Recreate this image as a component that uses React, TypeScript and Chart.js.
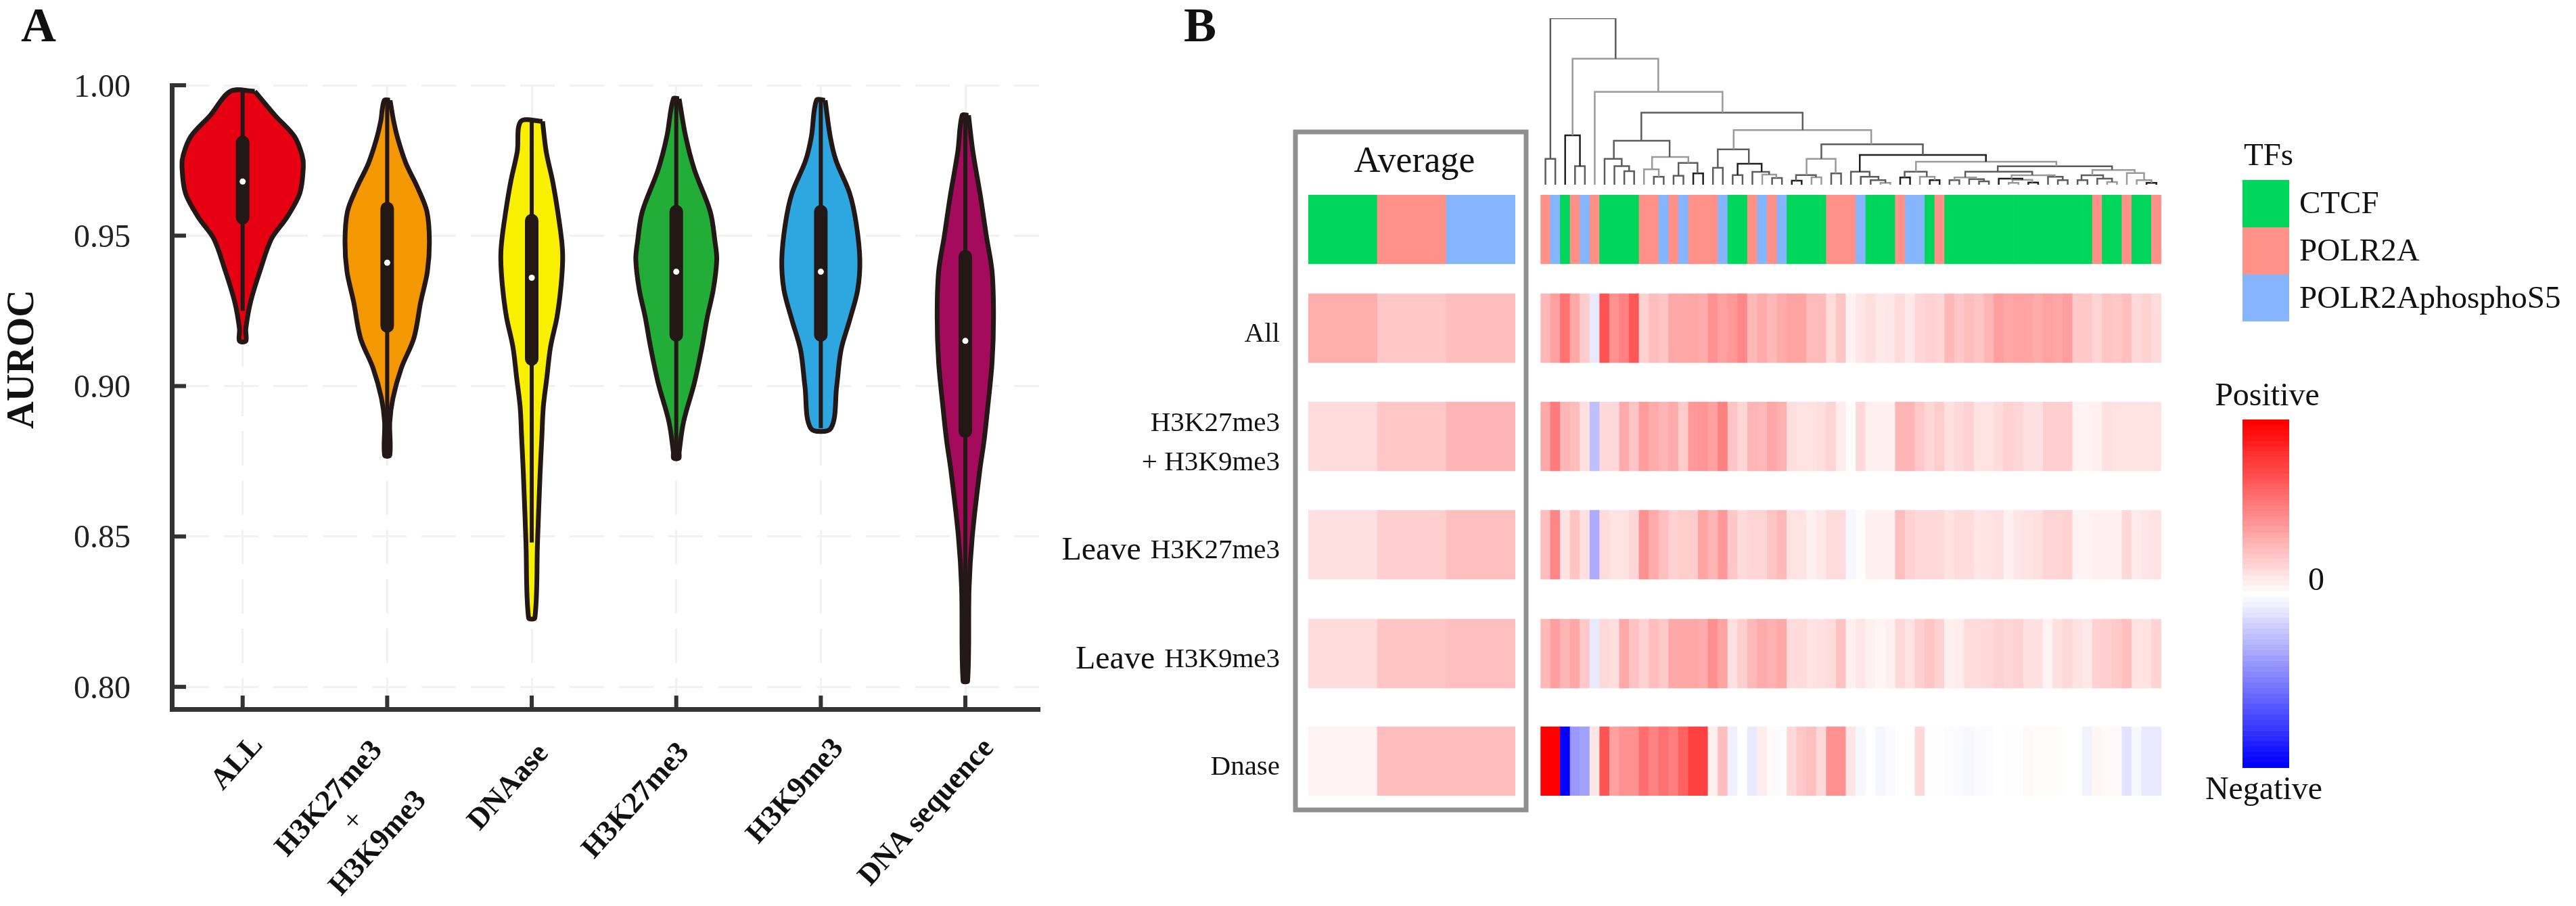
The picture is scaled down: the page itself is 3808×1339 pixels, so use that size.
import React, { useEffect, useRef } from "react";
import { Chart, registerables } from "chart.js";

Chart.register(...registerables);

// ---------- Panel A data ----------
const VIOLIN_LABELS = [["ALL"], ["H3K27me3", "+", "H3K9me3"], ["DNAase"], ["H3K27me3"], ["H3K9me3"], ["DNA sequence"]];
const Y_TICKS = [0.8, 0.85, 0.9, 0.95, 1.0];
const ALL_V = [0.998, 0.99, 0.983, 0.977, 0.973, 0.964, 0.956, 0.949, 0.939, 0.928, 0.919, 0.915];
const ALL_W = [0.084, 0.224, 0.358, 0.41, 0.42, 0.395, 0.305, 0.2, 0.125, 0.055, 0.022, 0.022];
const BOTH_V = [0.995, 0.988, 0.982, 0.974, 0.966, 0.958, 0.948, 0.938, 0.928, 0.916, 0.906, 0.896, 0.888, 0.877];
const BOTH_W = [0.02, 0.045, 0.075, 0.13, 0.21, 0.275, 0.292, 0.278, 0.232, 0.185, 0.098, 0.04, 0.018, 0.018];
const DNAASE_V = [0.988, 0.978, 0.968, 0.958, 0.948, 0.942, 0.933, 0.923, 0.913, 0.903, 0.893, 0.883, 0.871, 0.848, 0.823];
const DNAASE_W = [0.075, 0.1, 0.145, 0.18, 0.208, 0.214, 0.202, 0.175, 0.13, 0.105, 0.08, 0.07, 0.058, 0.04, 0.022];
const K27_V = [0.9955, 0.983, 0.972, 0.958, 0.948, 0.942, 0.932, 0.923, 0.913, 0.901, 0.888, 0.878, 0.876];
const K27_W = [0.02, 0.065, 0.125, 0.235, 0.268, 0.28, 0.256, 0.215, 0.178, 0.125, 0.05, 0.02, 0.018];
const K9_V = [0.995, 0.983, 0.975, 0.964, 0.954, 0.942, 0.932, 0.922, 0.912, 0.9, 0.886];
const K9_W = [0.03, 0.065, 0.105, 0.2, 0.245, 0.27, 0.255, 0.2, 0.14, 0.11, 0.07];
const SEQ_V = [0.99, 0.978, 0.963, 0.95, 0.938, 0.923, 0.908, 0.893, 0.882, 0.872, 0.85, 0.833, 0.802];
const SEQ_W = [0.022, 0.052, 0.105, 0.145, 0.185, 0.195, 0.185, 0.155, 0.13, 0.1, 0.048, 0.026, 0.016];
const VIOLIN_V = [ALL_V, BOTH_V, DNAASE_V, K27_V, K9_V, SEQ_V];
const VIOLIN_W = [ALL_W, BOTH_W, DNAASE_W, K27_W, K9_W, SEQ_W];
const WHISKER_LOW = [0.925, 0.877, 0.848, 0.876, 0.886, 0.802];
const WHISKER_HIGH = [0.998, 0.995, 0.988, 0.9955, 0.995, 0.99];
const BOX_LOW = [0.956, 0.92, 0.909, 0.917, 0.917, 0.885];
const BOX_HIGH = [0.981, 0.959, 0.955, 0.958, 0.958, 0.943];
const MEDIANS = [0.968, 0.941, 0.936, 0.938, 0.938, 0.915];
const VIOLIN_COLORS = ["#E60012", "#F39800", "#F9F000", "#22AC38", "#2EA7E0", "#A40B5D"];

// ---------- Panel B data ----------
const TF_NAMES = ["CTCF", "POLR2A", "POLR2AphosphoS5"];
const TF_COLORS = ["#00D65B", "#FF9189", "#85B5FF"];
const ROW_NAMES = ["All", "H3K27me3\n+ H3K9me3", "Leave H3K27me3", "Leave H3K9me3", "Dnase"];
const AVG_TYPES = [0, 1, 2];
const AVG_ALL = [0.32, 0.22, 0.26];
const AVG_BOTH = [0.14, 0.22, 0.29];
const AVG_LEAVE27 = [0.12, 0.19, 0.25];
const AVG_LEAVE9 = [0.14, 0.23, 0.25];
const AVG_DNASE = [0.05, 0.26, 0.26];
const COL_TYPES = [1, 2, 0, 1, 2, 1, 0, 0, 0, 0, 1, 1, 2, 1, 2, 1, 1, 1, 2, 0, 0, 1, 2, 1, 2, 0, 0, 0, 0, 1, 1, 1, 2, 0, 0, 0, 1, 2, 2, 0, 1, 0, 0, 0, 0, 0, 0, 0, 0, 0, 0, 0, 0, 0, 0, 0, 1, 0, 0, 1, 0, 0, 1];
const HEAT_ALL = [0.28, 0.37, 0.55, 0.34, 0.2, -0.09, 0.67, 0.43, 0.5, 0.66, 0.18, 0.26, 0.23, 0.34, 0.34, 0.35, 0.33, 0.43, 0.37, 0.4, 0.47, 0.28, 0.33, 0.28, 0.33, 0.36, 0.36, 0.27, 0.27, 0.14, 0.23, 0.05, 0.1, 0.13, 0.09, 0.1, 0.14, 0.09, 0.16, 0.18, 0.16, 0.28, 0.22, 0.26, 0.23, 0.29, 0.38, 0.35, 0.36, 0.36, 0.33, 0.37, 0.35, 0.38, 0.21, 0.22, 0.17, 0.23, 0.22, 0.25, 0.15, 0.18, 0.14];
const HEAT_BOTH = [0.34, 0.52, 0.29, 0.26, 0.12, -0.25, 0.15, 0.15, 0.33, 0.23, 0.39, 0.33, 0.29, 0.33, 0.2, 0.4, 0.41, 0.37, 0.5, 0.23, 0.16, 0.29, 0.28, 0.35, 0.31, 0.13, 0.11, 0.11, 0.13, 0.17, 0.07, 0.01, 0.15, 0.06, 0.06, 0.06, 0.29, 0.29, 0.21, 0.16, 0.2, 0.12, 0.15, 0.18, 0.11, 0.11, 0.14, 0.18, 0.16, 0.12, 0.12, 0.19, 0.19, 0.19, 0.05, 0.05, 0.06, 0.12, 0.11, 0.11, 0.11, 0.11, 0.11];
const HEAT_LEAVE27 = [0.26, 0.47, 0.11, 0.23, 0.12, -0.33, 0.14, 0.11, 0.11, 0.16, 0.43, 0.33, 0.25, 0.18, 0.2, 0.2, 0.36, 0.29, 0.4, 0.22, 0.14, 0.17, 0.17, 0.23, 0.28, 0.11, 0.11, 0.06, 0.09, 0.14, 0.14, -0.03, 0.01, 0.06, 0.06, 0.06, 0.25, 0.18, 0.15, 0.15, 0.15, 0.11, 0.14, 0.14, 0.1, 0.11, 0.12, 0.06, 0.1, 0.11, 0.12, 0.17, 0.17, 0.18, 0.05, 0.05, 0.06, 0.06, 0.06, 0.15, 0.08, 0.1, 0.11];
const HEAT_LEAVE9 = [0.28, 0.38, 0.29, 0.34, 0.21, -0.09, 0.15, 0.13, 0.34, 0.24, 0.18, 0.26, 0.21, 0.34, 0.35, 0.35, 0.33, 0.44, 0.36, 0.12, 0.19, 0.28, 0.33, 0.31, 0.34, 0.14, 0.14, 0.11, 0.12, 0.14, 0.24, 0.06, 0.1, 0.06, 0.04, 0.06, 0.15, 0.11, 0.19, 0.23, 0.18, 0.06, 0.07, 0.14, 0.14, 0.15, 0.18, 0.16, 0.18, 0.12, 0.12, 0.05, 0.12, 0.15, 0.11, 0.09, 0.18, 0.19, 0.21, 0.25, 0.11, 0.11, 0.17];
const HEAT_DNASE = [1, 1, -1, -0.4, -0.37, 0.1, 0.67, 0.37, 0.43, 0.43, 0.57, 0.49, 0.56, 0.51, 0.62, 0.75, 0.75, 0.06, 0.25, -0.06, 0, -0.09, 0.07, 0.02, -0.01, 0.15, 0.22, 0.25, 0.15, 0.43, 0.43, 0.1, -0.03, 0, -0.04, -0.02, 0, 0, 0.15, 0.005, 0.005, -0.01, -0.02, -0.03, -0.02, -0.01, 0, 0.005, 0.005, 0.02, 0.01, 0.01, 0.01, 0, 0, -0.05, 0.04, 0.02, 0.02, -0.11, -0.03, -0.09, -0.09];
const COLORBAR_LEVELS = [1, 0.97, 0.94, 0.91, 0.88, 0.84, 0.81, 0.78, 0.75, 0.72, 0.69, 0.66, 0.62, 0.59, 0.56, 0.53, 0.5, 0.47, 0.44, 0.41, 0.38, 0.34, 0.31, 0.28, 0.25, 0.22, 0.19, 0.16, 0.12, 0.09, 0.06, 0.03, 0, -0.03, -0.06, -0.09, -0.12, -0.16, -0.19, -0.22, -0.25, -0.28, -0.31, -0.34, -0.38, -0.41, -0.44, -0.47, -0.5, -0.53, -0.56, -0.59, -0.62, -0.66, -0.69, -0.72, -0.75, -0.78, -0.81, -0.84, -0.88, -0.91, -0.94, -0.97, -1];

// Dendrogram merges: left column, right column, merge height, left child height, right child height, shade
const DENDRO_LINKS = [
  [0.5, 7.12, 246.7, 38.3, 186.7, 1], [0, 1, 38.3, 0, 0, 1], [2.75, 11.45, 186.7, 73.3, 137.7, 2], [2, 3.5, 73.3, 0, 27.7, 0], [3, 4, 27.7, 0, 0, 1],
  [5, 17.97, 137.7, 0, 106.7, 2], [9.73, 26.1, 106.7, 65.3, 81, 1], [6.94, 12.6, 65.3, 38.3, 41, 1], [6, 7.74, 38.3, 0, 27.7, 1], [7, 8.49, 27.7, 0, 20, 1],
  [8, 9, 20, 0, 0, 1], [10.82, 14.5, 41, 22.7, 32.3, 2], [10, 11.5, 22.7, 0, 11.7, 2], [11, 12, 11.7, 0, 0, 1], [13.5, 15.43, 32.3, 13.3, 16.7, 1],
  [13, 14, 13.3, 0, 0, 1], [15, 16, 16.7, 0, 0, 0], [19.1, 33.06, 81, 52.3, 60, 2], [17.49, 20.64, 52.3, 25, 31, 1], [17, 18, 25, 0, 0, 1],
  [19.5, 21.94, 31, 14.3, 19, 0], [19, 20, 14.3, 0, 0, 1], [21, 22.7, 19, 0, 15, 1], [22, 23.42, 15, 0, 10, 2], [23, 24, 10, 0, 0, 1],
  [28, 38.3, 60, 38.3, 44, 1], [26.5, 29.45, 38.3, 14.3, 16.7, 2], [25.43, 27.45, 14.3, 6, 11, 1], [25, 26, 6, 0, 0, 0], [27, 28, 11, 0, 0, 2],
  [29, 30, 16.7, 0, 0, 1], [31.9, 44.7, 44, 19.3, 34, 0], [31, 32.9, 19.3, 0, 11.7, 1], [32, 33.8, 11.7, 0, 6.7, 1], [33, 34.5, 6.7, 0, 2.7, 1],
  [34, 35, 2.7, 0, 0, 2], [37.6, 51.85, 34, 19.3, 27.3, 2], [36.45, 38.7, 19.3, 10.7, 11.7, 1], [36, 37, 10.7, 0, 0, 0], [38, 39.5, 11.7, 0, 6.7, 2],
  [39, 40, 6.7, 0, 0, 0], [45.9, 57.5, 27.3, 19.3, 21.7, 1], [42.6, 49.4, 19.3, 10.7, 14, 1], [41.5, 43.7, 10.7, 6.7, 8.3, 2], [41, 42, 6.7, 0, 0, 1],
  [43, 44.5, 8.3, 0, 5, 1], [44, 45, 5, 0, 0, 1], [47.3, 51.7, 14, 9, 11.7, 2], [46, 48.4, 9, 0, 7.3, 0], [47.4, 49.4, 7.3, 2.7, 3.3, 2],
  [47, 48, 2.7, 0, 0, 2], [49, 50, 3.3, 0, 0, 0], [51, 52.5, 11.7, 0, 6.7, 1], [52, 53, 6.7, 0, 0, 1], [55.5, 59.8, 21.7, 14, 17.3, 2],
  [54.4, 56.6, 14, 6.7, 9, 1], [54, 55, 6.7, 0, 0, 1], [56, 57.5, 9, 0, 4, 1], [57, 58, 4, 0, 0, 2], [59, 60.75, 17.3, 0, 6.7, 2],
  [60, 61.5, 6.7, 0, 2.7, 2], [61, 62, 2.7, 0, 0, 0],
];

// ---------- Layout and style ----------
const SERIF = '"Liberation Serif"';
const INK = "#231815";
const AXIS = "#333333";
const GRID = "#f1f1f1";
const SHADES = ["#1f1f1f", "#5c5c5c", "#9a9a9a"];
const ROW_STARTS = [0, 146, 306, 466, 627, 786];
const ROW_SPAN = 102;
const XLABEL_OFFSETS = [[-7.5, 1128], [-49, 1214], [-34, 1164], [-59, 1184], [-37, 1170], [-57, 1201]];

function heatColor(v: number) {
  const c = Math.round(255 * (1 - Math.abs(v)));
  return v >= 0 ? `rgb(255,${c},${c})` : `rgb(${c},${c},255)`;
}

function text(ctx: any, s: string, x: number, y: number, font: string, color = "#111", align = "center", rot = 0) {
  ctx.save();
  ctx.translate(x, y);
  if (rot) ctx.rotate(rot);
  ctx.font = font;
  ctx.fillStyle = color;
  ctx.textAlign = align;
  ctx.textBaseline = "middle";
  ctx.fillText(s, 0, 0);
  ctx.restore();
}

const baseOptions = {
  responsive: false,
  animation: false,
  devicePixelRatio: 1,
  plugins: { legend: { display: false }, tooltip: { enabled: false } },
};

function violinOutline(cat: number) {
  const v = VIOLIN_V[cat];
  const w = VIOLIN_W[cat];
  const right = v.map((y, i) => ({ x: cat + w[i], y }));
  const left = v.map((y, i) => ({ x: cat - w[i], y })).reverse();
  return [...right, ...left, right[0]];
}

function violinChart(canvas: HTMLCanvasElement) {
  const datasets: any[] = [];
  VIOLIN_V.forEach((_, c) => {
    datasets.push({
      data: violinOutline(c), showLine: true, fill: "shape", backgroundColor: VIOLIN_COLORS[c],
      borderColor: INK, borderWidth: 7, borderJoinStyle: "round", tension: 0.33, pointRadius: 0, order: 3,
    });
    datasets.push({
      data: [{ x: c, y: WHISKER_LOW[c] }, { x: c, y: WHISKER_HIGH[c] }], showLine: true, fill: false,
      borderColor: INK, borderWidth: 6, pointRadius: 0, order: 2,
    });
    datasets.push({
      data: [{ x: c, y: BOX_LOW[c] }, { x: c, y: BOX_HIGH[c] }], showLine: true, fill: false,
      borderColor: INK, borderWidth: 20, borderCapStyle: "round", pointRadius: 0, order: 1,
    });
    datasets.push({
      data: [{ x: c, y: MEDIANS[c] }], showLine: false, pointRadius: 4.5, pointBorderWidth: 0,
      pointBackgroundColor: "#ffffff", order: 0,
    });
  });
  const tickMarks = {
    id: "tickMarks",
    afterDraw(chart: any) {
      const { ctx, scales, chartArea } = chart;
      ctx.save();
      ctx.fillStyle = AXIS;
      scales.y.ticks.forEach((t: any) => {
        ctx.fillRect(chartArea.left, scales.y.getPixelForValue(t.value) - 3, 21, 6);
      });
      scales.x.ticks.forEach((t: any) => {
        ctx.fillRect(scales.x.getPixelForValue(t.value) - 3, chartArea.bottom - 20, 6, 20);
      });
      ctx.restore();
      VIOLIN_LABELS.forEach((lines, c) => {
        const [dx, cy] = XLABEL_OFFSETS[c];
        const cx = scales.x.getPixelForValue(c) + dx;
        const angle = (-48 * Math.PI) / 180;
        lines.forEach((line, i) => {
          const k = (i - (lines.length - 1) / 2) * 49;
          const font = line === "+" ? `44px ${SERIF}` : `bold 44px ${SERIF}`;
          text(ctx, line, cx + k * 0.74, cy + k * 0.67, font, "#111", "center", angle);
        });
      });
      text(ctx, "AUROC", 35, 531, `bold 56px ${SERIF}`, "#111", "center", -Math.PI / 2);
      text(ctx, "A", 57, 42, `bold 72px ${SERIF}`);
    },
  };
  return new Chart(canvas, {
    type: "scatter",
    data: { datasets },
    plugins: [tickMarks],
    options: {
      ...baseOptions,
      layout: { padding: { top: 126, right: 64, left: 0, bottom: 0 } },
      scales: {
        x: {
          type: "linear", min: -0.49, max: 5.51,
          afterBuildTicks: (s: any) => { s.ticks = [0, 1, 2, 3, 4, 5].map((value) => ({ value })); },
          afterFit: (s: any) => { s.height = 291; },
          ticks: { display: false },
          grid: { color: GRID, lineWidth: 3, drawTicks: false },
          border: { display: true, color: AXIS, width: 7, dash: [51, 22] },
        },
        y: {
          type: "linear", min: 0.7926, max: 1.0,
          afterBuildTicks: (s: any) => { s.ticks = Y_TICKS.map((value) => ({ value })); },
          afterFit: (s: any) => { s.width = 254; },
          ticks: {
            padding: 61, color: "#222", font: { family: SERIF, size: 48 }, labelOffset: 4,
            callback: (v: any) => Number(v).toFixed(2),
          },
          grid: { color: GRID, lineWidth: 3, drawTicks: false },
          border: { display: true, color: AXIS, width: 7, dash: [51, 22] },
        },
      },
    } as any,
  } as any);
}

function heatDatasets(columns: number, types: number[], rows: number[][]) {
  const span = (row: number) => Array.from({ length: columns }, () => [ROW_STARTS[row], ROW_STARTS[row] + ROW_SPAN]);
  const sets: any[] = [{ data: span(0), backgroundColor: types.map((t) => TF_COLORS[t]), grouped: false }];
  rows.forEach((vals, r) => {
    sets.push({ data: span(r + 1), backgroundColor: vals.map(heatColor), grouped: false });
  });
  return sets;
}

const heatScales = {
  x: { display: false, type: "category", offset: true, grid: { display: false } },
  y: { display: false, type: "linear", min: 0, max: 888, reverse: true },
};

function averageChart(canvas: HTMLCanvasElement) {
  const frame = {
    id: "frame",
    afterDraw(chart: any) {
      const { ctx, chartArea: a, scales } = chart;
      ctx.save();
      ctx.strokeStyle = "#8f8f8f";
      ctx.lineWidth = 7;
      ctx.strokeRect(a.left - 19, a.top - 93, a.right - a.left + 35, a.bottom - a.top + 114);
      ctx.restore();
      text(ctx, "Average", (a.left + a.right) / 2 + 4, a.top - 48, `54px ${SERIF}`);
      text(ctx, "B", a.left - 160, 42, `bold 72px ${SERIF}`);
      const right = a.left - 42;
      ROW_NAMES.forEach((name, r) => {
        const cy = scales.y.getPixelForValue(ROW_STARTS[r + 1] + ROW_SPAN / 2) + 9;
        if (name.includes("\n")) {
          const [one, two] = name.split("\n");
          text(ctx, one, right, cy - 28, `41px ${SERIF}`, "#111", "right");
          text(ctx, two, right, cy + 30, `41px ${SERIF}`, "#111", "right");
        } else if (name.startsWith("Leave ")) {
          const rest = name.slice(6);
          ctx.font = `41px ${SERIF}`;
          const w = ctx.measureText(rest).width;
          text(ctx, rest, right, cy, `41px ${SERIF}`, "#111", "right");
          text(ctx, "Leave", right - w - 14, cy, `48px ${SERIF}`, "#111", "right");
        } else {
          text(ctx, name, right, cy, `41px ${SERIF}`, "#111", "right");
        }
      });
    },
  };
  return new Chart(canvas, {
    type: "bar",
    data: {
      labels: TF_NAMES,
      datasets: heatDatasets(3, AVG_TYPES, [AVG_ALL, AVG_BOTH, AVG_LEAVE27, AVG_LEAVE9, AVG_DNASE]),
    },
    plugins: [frame],
    options: {
      ...baseOptions,
      datasets: { bar: { barPercentage: 1, categoryPercentage: 1 } },
      layout: { padding: { left: 389, right: 30, top: 288, bottom: 163 } },
      scales: heatScales,
    } as any,
  } as any);
}

function mainHeatChart(canvas: HTMLCanvasElement) {
  return new Chart(canvas, {
    type: "bar",
    data: {
      labels: COL_TYPES.map((_, i) => String(i)),
      datasets: heatDatasets(COL_TYPES.length, COL_TYPES, [HEAT_ALL, HEAT_BOTH, HEAT_LEAVE27, HEAT_LEAVE9, HEAT_DNASE]),
    },
    options: {
      ...baseOptions,
      datasets: { bar: { barPercentage: 1, categoryPercentage: 1 } },
      layout: { padding: { left: 7.3, right: 10, top: 8, bottom: 14 } },
      scales: heatScales,
    } as any,
  } as any);
}

function dendroChart(canvas: HTMLCanvasElement) {
  const datasets = DENDRO_LINKS.map(([xl, xr, h, hl, hr, shade]) => ({
    data: [{ x: xl, y: hl }, { x: xl, y: h }, { x: xr, y: h }, { x: xr, y: hr }],
    showLine: true, fill: false, borderColor: SHADES[shade], borderWidth: 2.5, pointRadius: 0, tension: 0,
    borderJoinStyle: "miter",
  }));
  return new Chart(canvas, {
    type: "scatter",
    data: { datasets },
    options: {
      ...baseOptions,
      layout: { padding: { left: 7.3, right: 10, top: 27, bottom: 12 } },
      scales: {
        x: { display: false, type: "linear", min: -0.5, max: 62.5 },
        y: { display: false, type: "linear", min: 0, max: 246.7 },
      },
    } as any,
  } as any);
}

function tfLegendChart(canvas: HTMLCanvasElement) {
  const names = {
    id: "names",
    afterDraw(chart: any) {
      const { ctx, scales, chartArea: a } = chart;
      text(ctx, "TFs", a.left + 2, a.top - 34, `47px ${SERIF}`, "#111", "left");
      TF_NAMES.forEach((n, i) => {
        text(ctx, n, a.right + 15, scales.y.getPixelForValue(i + 0.5) + 2, `47px ${SERIF}`, "#111", "left");
      });
    },
  };
  return new Chart(canvas, {
    type: "bar",
    data: {
      labels: ["TFs"],
      datasets: TF_NAMES.map((n, i) => ({ label: n, data: [1], backgroundColor: TF_COLORS[i], stack: "tf" })),
    },
    plugins: [names],
    options: {
      ...baseOptions,
      datasets: { bar: { barPercentage: 1, categoryPercentage: 1 } },
      layout: { padding: { left: 65, right: 424, top: 66, bottom: 25 } },
      scales: {
        x: { display: false, stacked: true },
        y: { display: false, stacked: true, min: 0, max: 3, reverse: true },
      },
    } as any,
  } as any);
}

function colorbarChart(canvas: HTMLCanvasElement) {
  const names = {
    id: "names",
    afterDraw(chart: any) {
      const { ctx, chartArea: a } = chart;
      const cx = (a.left + a.right) / 2;
      text(ctx, "Positive", cx + 2, a.top - 34, `48px ${SERIF}`);
      text(ctx, "0", a.right + 40, (a.top + a.bottom) / 2 - 18, `48px ${SERIF}`);
      text(ctx, "Negative", cx - 3, a.bottom + 33, `48px ${SERIF}`);
    },
  };
  return new Chart(canvas, {
    type: "bar",
    data: {
      labels: ["scale"],
      datasets: COLORBAR_LEVELS.map((v) => ({ data: [1], backgroundColor: heatColor(v), stack: "bar" })),
    },
    plugins: [names],
    options: {
      ...baseOptions,
      datasets: { bar: { barPercentage: 1, categoryPercentage: 1 } },
      layout: { padding: { left: 65, right: 166, top: 60, bottom: 65 } },
      scales: {
        x: { display: false, stacked: true },
        y: { display: false, stacked: true, min: 0, max: COLORBAR_LEVELS.length, reverse: true },
      },
    } as any,
  } as any);
}

const PANELS = [
  { make: violinChart, left: 0, top: 0, width: 1600, height: 1339 },
  { make: averageChart, left: 1545, top: 0, width: 725, height: 1339 },
  { make: dendroChart, left: 2270, top: 0, width: 935, height: 285 },
  { make: mainHeatChart, left: 2270, top: 280, width: 935, height: 910 },
  { make: tfLegendChart, left: 3250, top: 200, width: 558, height: 300 },
  { make: colorbarChart, left: 3250, top: 560, width: 300, height: 640 },
];

export default function App() {
  const refs = useRef<(HTMLCanvasElement | null)[]>([]);
  useEffect(() => {
    document.body.style.margin = "0";
    document.body.style.background = "#fff";
    const charts = PANELS.map((p, i) => p.make(refs.current[i] as HTMLCanvasElement));
    return () => charts.forEach((c) => c.destroy());
  }, []);
  return (
    <div style={{ position: "relative", width: 3808, height: 1339, overflow: "hidden", background: "#fff" }}>
      {PANELS.map((p, i) => (
        <canvas
          key={i}
          ref={(el) => { refs.current[i] = el; }}
          width={p.width}
          height={p.height}
          style={{ position: "absolute", left: p.left, top: p.top, width: p.width, height: p.height, display: "block" }}
        />
      ))}
    </div>
  );
}
